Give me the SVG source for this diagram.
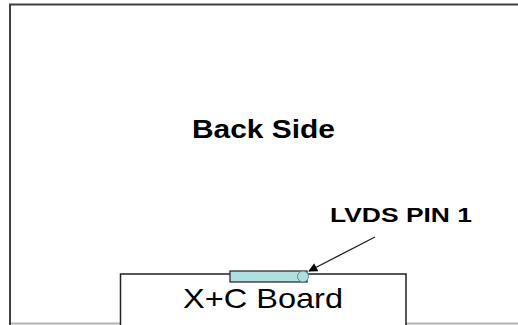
<svg xmlns="http://www.w3.org/2000/svg" width="518" height="325" viewBox="0 0 518 325">
<defs>
<style>
.frame{fill:#ffffff;stroke:#404040;stroke-width:2}
.board{fill:#ffffff;stroke:#202020;stroke-width:1.5}
.lbl{font-family:"Liberation Sans",Arial,sans-serif;fill:#000000}
.b{font-weight:bold}
</style>
<marker id="ah" viewBox="0 0 10 10" refX="9" refY="5" markerWidth="11" markerHeight="9" markerUnits="userSpaceOnUse" orient="auto">
<path d="M0,0 L10,5 L0,10 z" fill="#000"/>
</marker>
</defs>
<rect width="518" height="325" fill="#ffffff"/>
<g id="back-side">
<path class="frame" d="M10,328 L10,4.5 L530,4.5"/>
<line x1="11" y1="323.5" x2="518" y2="323.5" stroke="#b4b4b4" stroke-width="2"/>
<text class="lbl b" x="192" y="138" font-size="25" textLength="143" lengthAdjust="spacingAndGlyphs">Back Side</text>
</g>
<g id="board">
<path class="board" d="M120.5,330 L120.5,274 L406,274 L406,330"/>
<text class="lbl" x="183" y="308" font-size="28" textLength="160" lengthAdjust="spacingAndGlyphs">X+C Board</text>
</g>
<g id="lvds-connector">
<rect x="230" y="271" width="77" height="11" fill="#b0dfe0" stroke="#202020" stroke-width="1.2"/>
<circle cx="303" cy="276.5" r="5.5" fill="#b0dfe0" stroke="#5a8a8a" stroke-width="1"/>
</g>
<g id="label-pin">
<text class="lbl b" x="330" y="222" font-size="20" textLength="142" lengthAdjust="spacingAndGlyphs">LVDS PIN 1</text>
</g>
<g id="connectors">
<line x1="375" y1="237" x2="309" y2="271" stroke="#202020" stroke-width="1.3" marker-end="url(#ah)"/>
</g>
</svg>
